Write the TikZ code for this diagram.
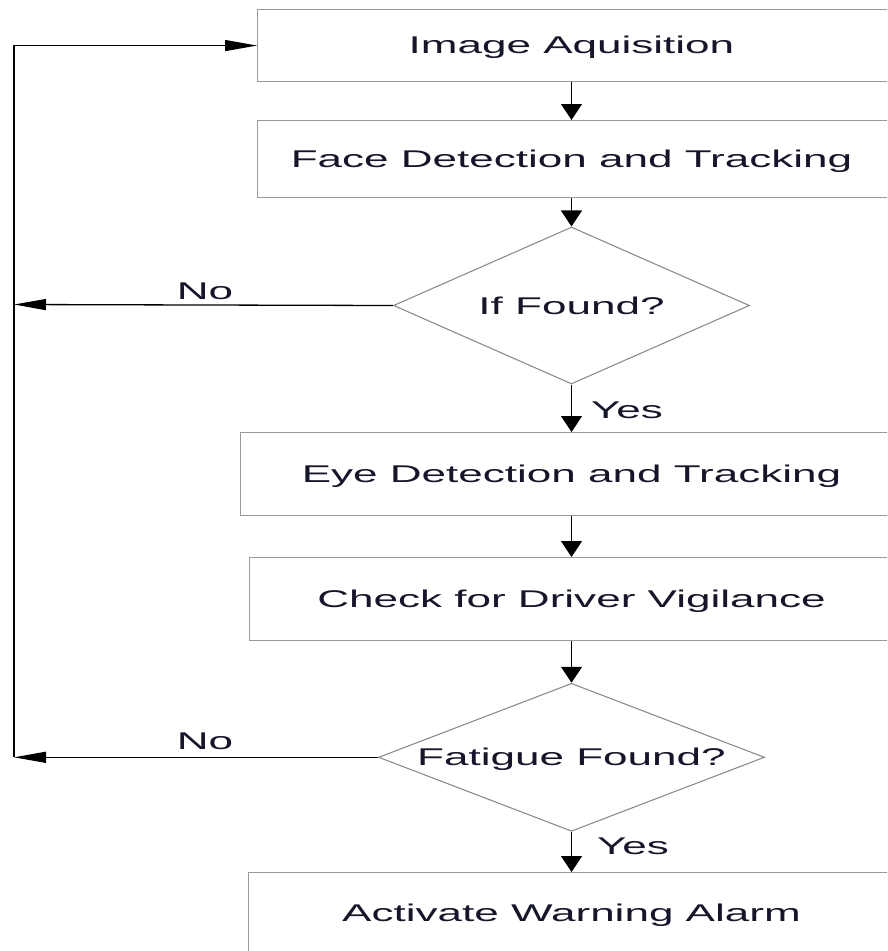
\documentclass[tikz,border=0pt]{standalone}
\usepackage{graphicx}
\usepackage{fontspec}
\setmainfont{Liberation Sans}
\usetikzlibrary{arrows.meta,shapes.geometric}

\definecolor{boxgray}{HTML}{9A9A9A}
\definecolor{decgray}{HTML}{8C8C8C}
\definecolor{ink}{HTML}{16162A}

% wide lettering used throughout the chart
\newcommand{\wide}[1]{\scalebox{1.82}[1]{#1}}

\tikzset{
  box/.style={draw=boxgray, line width=1.1pt, rectangle, inner sep=0pt, anchor=north west},
  dec/.style={draw=decgray, line width=1.1pt, diamond, inner sep=0pt,
              text=ink, font=\fontsize{24.2}{28}\selectfont, text height=17.3pt, text depth=0pt},
  lbl/.style={text=ink, font=\fontsize{24.2}{28}\selectfont, inner sep=0pt, anchor=base},
  flow/.style={draw=black, line width=1.3pt},
  down/.style={flow, -{Triangle[length=16pt,width=21pt]}},
  side/.style={flow, -{Triangle[length=32pt,width=11pt]}},
}

\begin{document}
\begin{tikzpicture}[x=1pt,y=-1pt]
\clip (0,0) rectangle (887,951);

% process boxes (they run past the right edge)
\node[box, minimum width=660pt, minimum height=72pt] (imgbox)   at (257,9)   {};
\node[box, minimum width=660pt, minimum height=77pt] (facebox)  at (257,120) {};
\node[box, minimum width=680pt, minimum height=83pt] (eyebox)   at (240,432) {};
\node[box, minimum width=670pt, minimum height=83pt] (vigbox)   at (249,557) {};
\node[box, minimum width=670pt, minimum height=110pt] (alarmbox) at (248,872) {};

% box captions
\node[lbl] (imgtxt)   at (571.5,53.7)  {\wide{Image Aquisition}};
\node[lbl] (facetxt)  at (571.5,167.0) {\wide{Face Detection and Tracking}};
\node[lbl] (eyetxt)   at (571.5,482.2) {\wide{Eye Detection and Tracking}};
\node[lbl] (vigtxt)   at (571.5,607.0) {\wide{Check for Driver Vigilance}};
\node[lbl] (alarmtxt) at (571.5,921.5) {\wide{Activate Warning Alarm}};

% decisions
\node[dec, aspect=2.27, minimum width=356pt, minimum height=157pt] (found)   at (571.5,305.5) {\wide{If Found?}};
\node[dec, aspect=2.61, minimum width=386pt, minimum height=148pt] (fatigue) at (571.5,757.3) {\wide{Fatigue Found?}};

% branch labels
\node[lbl] (yes1) at (627,418.3) {\wide{Yes}};
\node[lbl] (yes2) at (633,854.3) {\wide{Yes}};
\node[lbl] (no1)  at (205,299.0) {\wide{No}};
\node[lbl] (no2)  at (205,749.3) {\wide{No}};

% return line on the left
\coordinate (loopA) at (14,304.5);
\coordinate (loopB) at (14,757.3);

% main flow
\draw[down] (imgtxt |- imgbox.south) -- (imgtxt |- facebox.north);
\draw[down] (found |- facebox.south) -- (found.north);
\draw[down] (found.south) -- (found |- eyebox.north);
\draw[down] (eyetxt |- eyebox.south) -- (eyetxt |- vigbox.north);
\draw[down] (fatigue |- vigbox.south) -- (fatigue.north);
\draw[down] (fatigue.south) -- (fatigue |- alarmbox.north);

% "No" branches back to acquisition
\draw[side] (found.west) -- (loopA);
\draw[side] (fatigue.west) -- (loopB);
\draw[side] (loopB) |- (imgbox.west);
\end{tikzpicture}
\end{document}
